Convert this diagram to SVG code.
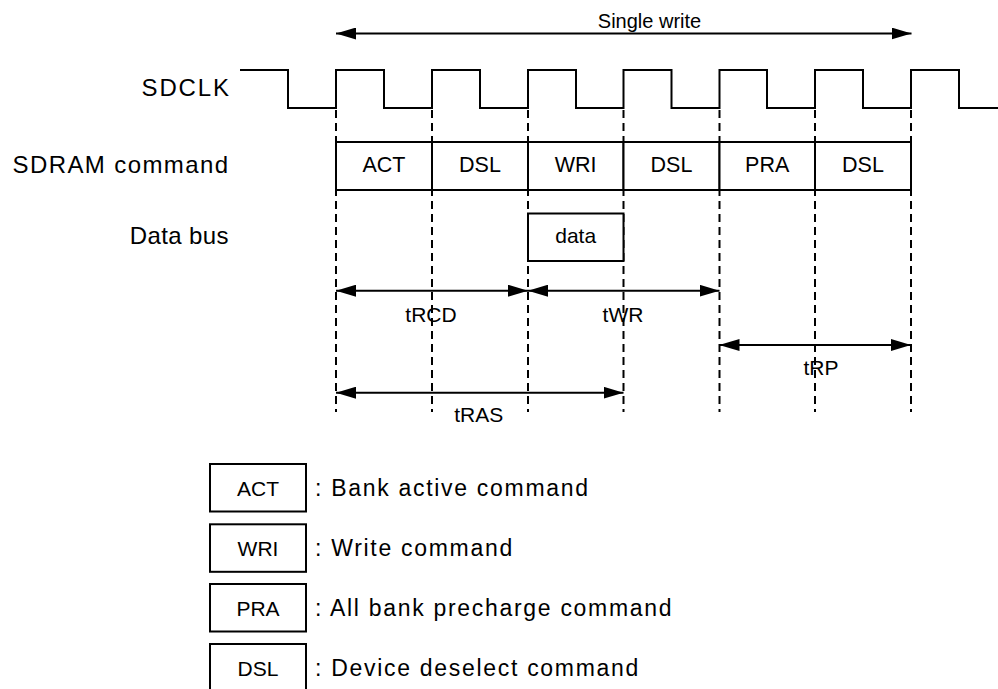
<svg xmlns="http://www.w3.org/2000/svg" width="998" height="689" viewBox="0 0 998 689">
<style>
text{font-family:"Liberation Sans",Arial,sans-serif;fill:#000}
.lbl{font-size:24px;text-anchor:end}
.cmd{font-size:21.5px;text-anchor:middle}
.tm{font-size:21px;text-anchor:middle}
.lt{font-size:21px;text-anchor:middle}
.leg{font-size:23px;letter-spacing:1.7px}
.ln{stroke:#000;stroke-width:2;fill:none}
.box{stroke:#000;stroke-width:2;fill:#fff}
.dash{stroke:#000;stroke-width:2;stroke-dasharray:8,5}
.arr{stroke:#000;stroke-width:2;marker-start:url(#ah);marker-end:url(#ah)}
</style>
<defs>
<marker id="ah" markerUnits="userSpaceOnUse" markerWidth="20" markerHeight="12" refX="20" refY="6" orient="auto-start-reverse" viewBox="0 0 20 12">
<path d="M0,0 L20,6 L0,12 z" fill="#000"/>
</marker>
</defs>
<rect width="998" height="689" fill="#fff"/>

<g id="labels">
<text class="lbl" x="231" y="96" style="letter-spacing:1.9px">SDCLK</text>
<text class="lbl" x="229.5" y="173" style="letter-spacing:1.4px">SDRAM command</text>
<text class="lbl" x="229" y="244" style="letter-spacing:0.4px">Data bus</text>
</g>

<g id="guides">
<line class="dash" x1="336" y1="110" x2="336" y2="412"/>
<line class="dash" x1="432" y1="110" x2="432" y2="412"/>
<line class="dash" x1="528" y1="110" x2="528" y2="412"/>
<line class="dash" x1="623.5" y1="110" x2="623.5" y2="412"/>
<line class="dash" x1="719.5" y1="110" x2="719.5" y2="412"/>
<line class="dash" x1="815" y1="110" x2="815" y2="412"/>
<line class="dash" x1="911" y1="110" x2="911" y2="412"/>
</g>

<g id="sdclk">
<path class="ln" d="M240,70 H288 V108 H336 V70 H384 V108 H432 V70 H480 V108 H528 V70 H576 V108 H623.5 V70 H671.5 V108 H719.5 V70 H767 V108 H815 V70 H863 V108 H911 V70 H959 V108 H998"/>
</g>

<g id="cmd-act"><rect class="box" x="336" y="142" width="96" height="48"/><text class="cmd" x="384" y="172">ACT</text></g>
<g id="cmd-dsl1"><rect class="box" x="432" y="142" width="96" height="48"/><text class="cmd" x="480" y="172">DSL</text></g>
<g id="cmd-wri"><rect class="box" x="528" y="142" width="95.5" height="48"/><text class="cmd" x="575.7" y="172">WRI</text></g>
<g id="cmd-dsl2"><rect class="box" x="623.5" y="142" width="96" height="48"/><text class="cmd" x="671.5" y="172">DSL</text></g>
<g id="cmd-pra"><rect class="box" x="719.5" y="142" width="95.5" height="48"/><text class="cmd" x="767.2" y="172">PRA</text></g>
<g id="cmd-dsl3"><rect class="box" x="815" y="142" width="96" height="48"/><text class="cmd" x="863" y="172">DSL</text></g>

<g id="data"><rect class="box" x="528" y="213.5" width="95.5" height="47.5"/><text class="tm" x="575.7" y="243.3">data</text></g>

<g id="connectors">
<line class="arr" x1="336" y1="33.5" x2="911.5" y2="33.5"/>
<line class="arr" x1="336" y1="290.7" x2="528" y2="290.7"/>
<line class="arr" x1="528" y1="290.7" x2="719.5" y2="290.7"/>
<line class="arr" x1="719.5" y1="345" x2="911" y2="345"/>
<line class="arr" x1="336" y1="392.7" x2="623.5" y2="392.7"/>
</g>

<g id="timing-labels">
<text class="tm" x="649.5" y="28" style="font-size:20px">Single write</text>
<text class="tm" x="431" y="321.7">tRCD</text>
<text class="tm" x="623" y="321.7">tWR</text>
<text class="tm" x="821" y="375">tRP</text>
<text class="tm" x="478.7" y="421.7">tRAS</text>
</g>

<g id="legend-act"><rect class="box" x="210" y="464" width="96" height="47.5"/><text class="lt" x="258" y="495.5">ACT</text><text class="leg" x="315" y="495.5">: Bank active command</text></g>
<g id="legend-wri"><rect class="box" x="210" y="524.3" width="96" height="47.5"/><text class="lt" x="258" y="555.7">WRI</text><text class="leg" x="315" y="555.7">: Write command</text></g>
<g id="legend-pra"><rect class="box" x="210" y="584" width="96" height="47.5"/><text class="lt" x="258" y="615.5">PRA</text><text class="leg" x="315" y="615.5">: All bank precharge command</text></g>
<g id="legend-dsl"><rect class="box" x="210" y="644" width="96" height="47.5"/><text class="lt" x="258" y="675.5">DSL</text><text class="leg" x="315" y="675.5">: Device deselect command</text></g>
</svg>
